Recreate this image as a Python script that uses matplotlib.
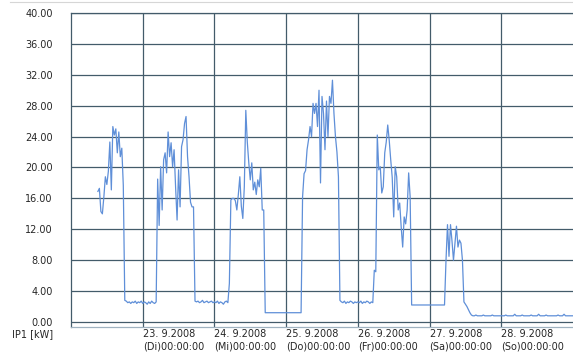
import numpy as np
import pandas as pd
import matplotlib
matplotlib.use("Agg")
import matplotlib.pyplot as plt
from matplotlib.lines import Line2D

# Active power IP1 in kW, half-hourly readings, one list per day (00:00 .. 23:30)
mon_22 = [None, None, None, None, None, None, None, None, None,
          None, None, None, None, None, None, None, None, None,
          16.9, 17.3, 14.3, 14.0, 16.2, 18.8, 17.8, 19.5, 23.3,
          17.1, 25.3, 24.2, 25.0, 21.9, 24.6, 21.4, 22.5, 17.7,
          2.8, 2.7, 2.5, 2.6, 2.4, 2.6, 2.5, 2.7, 2.4, 2.6, 2.5, 2.7]
tue_23 = [2.4, 2.6, 2.5, 2.3, 2.6, 2.4, 2.7, 2.5, 2.4, 2.6,
          18.5, 12.5, 20.1, 14.5, 21.0, 21.9, 19.3, 24.6, 21.4, 23.2,
          20.1, 22.3, 17.5, 13.2, 19.7, 14.9, 22.7, 23.6, 25.7, 26.6,
          21.4, 18.8, 15.5, 14.9, 14.9,
          2.7, 2.6, 2.7, 2.5, 2.6, 2.8, 2.5, 2.6, 2.7, 2.5, 2.6, 2.7, 2.5]
wed_24 = [2.6, 2.5, 2.7, 2.4, 2.6, 2.5, 2.3, 2.6, 2.7, 2.5,
          5.0, 15.8, 16.0, 16.0, 15.7, 14.5, 16.5, 18.8, 15.0, 13.4,
          17.5, 27.4, 23.3, 20.6, 18.4, 20.6, 17.1, 18.1, 16.5, 18.4,
          17.5, 19.9, 14.5, 14.5,
          1.2, 1.2, 1.2, 1.2, 1.2, 1.2, 1.2, 1.2, 1.2, 1.2, 1.2, 1.2, 1.2, 1.2]
thu_25 = [1.2, 1.2, 1.2, 1.2, 1.2, 1.2, 1.2, 1.2, 1.2, 1.2, 1.2,
          16.2, 19.2, 19.6, 22.3, 23.6, 25.3, 24.0, 28.3, 27.0, 28.3,
          25.3, 30.0, 18.0, 29.2, 27.0, 22.3, 28.6, 24.0, 29.2, 28.3,
          31.3, 27.0, 24.0, 22.0, 18.8,
          2.8, 2.6, 2.5, 2.7, 2.4, 2.6, 2.5, 2.7, 2.6, 2.4, 2.6, 2.5]
fri_26 = [2.6, 2.5, 2.7, 2.4, 2.6, 2.5, 2.7, 2.6, 2.4, 2.6, 2.5,
          6.7, 6.5, 24.2, 19.7, 20.1, 16.7, 17.5, 21.9, 23.3, 25.5,
          23.5, 21.0, 18.7, 13.6, 20.1, 18.8, 14.5, 15.4, 12.3, 9.7,
          13.6, 12.7, 14.5, 19.3, 16.2,
          2.2, 2.2, 2.2, 2.2, 2.2, 2.2, 2.2, 2.2, 2.2, 2.2, 2.2, 2.2]
sat_27 = [2.2, 2.2, 2.2, 2.2, 2.2, 2.2, 2.2, 2.2, 2.2, 2.2, 2.2,
          8.0, 12.6, 8.5, 12.6, 10.5, 8.0, 10.2, 12.4, 9.7, 10.6, 10.2, 8.0,
          2.6, 2.3, 2.0, 1.6, 1.2, 0.9,
          0.8, 0.8, 0.9, 0.8, 0.8, 0.8, 0.8, 0.9, 0.8, 0.8,
          0.8, 0.8, 0.8, 0.9, 0.8, 0.8, 0.8, 0.8, 0.8]
sun_28 = [0.8, 0.8, 0.8, 0.9, 0.8, 0.8, 0.8, 0.8, 0.8, 1.0, 0.8, 0.8,
          0.8, 0.8, 0.9, 0.8, 0.8, 0.8, 0.8, 0.8, 0.9, 0.8, 0.8, 0.8,
          0.8, 1.0, 0.8, 0.8, 0.8, 0.8, 0.9, 0.8, 0.8, 0.8, 0.8, 0.8,
          0.8, 0.8, 0.9, 0.8, 0.8, 0.8, 1.0, 0.8, 0.8, 0.8, 0.8, 0.8]
mon_29 = [0.8]

weekday_abbr = ["Mo", "Di", "Mi", "Do", "Fr", "Sa", "So"]
y_ticks = [0, 4, 8, 12, 16, 20, 24, 28, 32, 36, 40]
y_label = "IP1 [kW]"

kw = np.array([np.nan if v is None else v
               for v in mon_22 + tue_23 + wed_24 + thu_25 + fri_26 + sat_27 + sun_28 + mon_29],
              dtype=float)
times = pd.date_range("2008-09-22 00:00", periods=len(kw), freq="30min")

grid_col = "#435b6a"
text_col = "#262626"

fig = plt.figure(figsize=(5.73, 3.52), dpi=100)
ax = fig.add_axes([71 / 573, 1 - 327 / 352, (573 - 71) / 573, (327 - 13) / 352])

ax.plot(times, kw, color="#5f8fd8", lw=0.9)

ax.set_xlim(pd.Timestamp("2008-09-22"), pd.Timestamp("2008-09-29"))
ax.set_ylim(-0.65, 40)

day_ticks = pd.date_range("2008-09-23", "2008-09-28", freq="D")
ax.set_xticks(day_ticks)
ax.set_xticklabels([f"{d.day}. {d.month}.{d.year}\n({weekday_abbr[d.weekday()]})00:00:00"
                    for d in day_ticks], ha="left", linespacing=1.3)
ax.set_yticks(y_ticks)
ax.set_yticklabels([f"{v:.2f}" for v in y_ticks])

ax.tick_params(axis="both", length=0, labelsize=7, labelcolor=text_col)
ax.tick_params(axis="y", pad=13)
ax.tick_params(axis="x", pad=1.5)

ax.grid(True, color=grid_col, lw=0.9)
ax.set_axisbelow(True)
for side in ("left", "top"):
    ax.spines[side].set_color(grid_col)
    ax.spines[side].set_linewidth(0.9)
ax.spines["right"].set_visible(False)
ax.spines["bottom"].set_color("#9fb2c0")
ax.spines["bottom"].set_linewidth(0.9)

fig.text(53 / 573, 1 - 334 / 352, y_label, ha="right", va="center",
         fontsize=7, color=text_col)
fig.add_artist(Line2D([10 / 573, 1], [1 - 2 / 352, 1 - 2 / 352],
                      transform=fig.transFigure, color="#d6d6d6", lw=0.8))

fig.savefig("out.png", dpi=100, facecolor="white")
